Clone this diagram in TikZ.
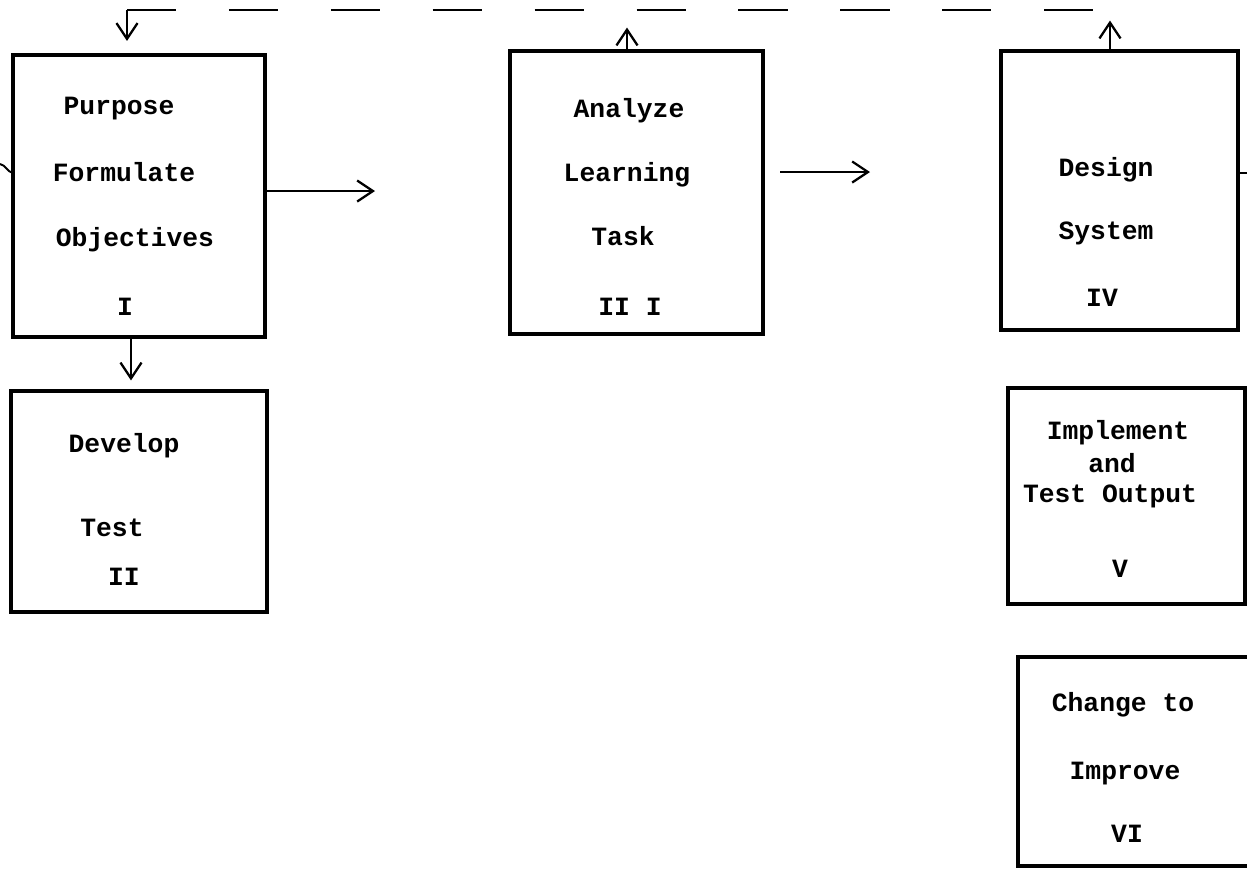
\documentclass[tikz,border=0pt]{standalone}
\usepackage{fontspec}
\setmonofont{Liberation Mono}
\usetikzlibrary{arrows.meta,fit}
\begin{document}
\begin{tikzpicture}[x=0.02cm,y=-0.02cm,
  box/.style={draw,line width=2pt,inner sep=0pt,outer sep=0pt},
  txt/.style={font=\ttfamily\bfseries\fontsize{15}{18}\selectfont,anchor=base,inner sep=0pt},
  conn/.style={line width=1.1pt},
  arr/.style={conn,-{Straight Barb[length=9pt,width=12pt,line width=1.3pt]}},
  feed/.style={line width=1.6pt,dash pattern=on 28pt off 30pt}]
\useasboundingbox (0,0) rectangle (1247,870);
% boxes
\node[box,fit={(13,55) (265,337)}] (b1) {};
\node[box,fit={(11,391) (267,612)}] (b2) {};
\node[box,fit={(510,51) (763,334)}] (b3) {};
\node[box,fit={(1001,51) (1238,330)}] (b4) {};
\node[box,fit={(1008,388) (1245,604)}] (b5) {};
\node[box,fit={(1018,657) (1252,866)}] (b6) {};
% texts
\node[txt] (t1a) at (119,114) {Purpose};
\node[txt] (t1b) at (124,181) {Formulate};
\node[txt] (t1c) at (135,246) {Objectives};
\node[txt] (t1d) at (125,315) {I};
\node[txt] (t2a) at (124,452) {Develop};
\node[txt] (t2b) at (112,536) {Test};
\node[txt] (t2c) at (124,585) {II};
\node[txt] (t3a) at (629,117) {Analyze};
\node[txt] (t3b) at (627,181) {Learning};
\node[txt] (t3c) at (623,245) {Task};
\node[txt] (t3d) at (630,315) {II I};
\node[txt] (t4a) at (1106,176) {Design};
\node[txt] (t4b) at (1106,239) {System};
\node[txt] (t4c) at (1102,306) {IV};
\node[txt] (t5a) at (1118,439) {Implement};
\node[txt] (t5b) at (1112,472) {and};
\node[txt] (t5c) at (1110,502) {Test Output};
\node[txt] (t5d) at (1120,577) {V};
\node[txt] (t6a) at (1123,711) {Change to};
\node[txt] (t6b) at (1125,779) {Improve};
\node[txt] (t6c) at (1127,842) {VI};
% feedback dashed line
\coordinate (fl) at (127,10);
\coordinate (fm) at (627,10);
\coordinate (fr) at (1110,10);
\draw[feed] (fl) -- (fr);
\draw[arr,shorten >=10pt] (b3.north -| fm) -- (fm);
\draw[arr,shorten >=6pt] (b4.north -| fr) -- (fr);
\draw[arr,shorten >=8pt] (fl) -- (b1.north -| fl);
% forward arrows
\draw[arr] (b1.east |- 0,191) -- (375,191);
\draw[arr] (780,172) -- (870,172);
\draw[arr,shorten >=6pt] (b1.south -| 131,0) -- (b2.north -| 131,0);
% loose ends at the page edges
\coordinate (le) at (0,164);
\coordinate (re) at (1247,173);
\draw[conn] (b1.west |- 0,173) to[out=170,in=-10] (le);
\draw[conn] (b4.east |- 0,173) -- (re);
\end{tikzpicture}
\end{document}
